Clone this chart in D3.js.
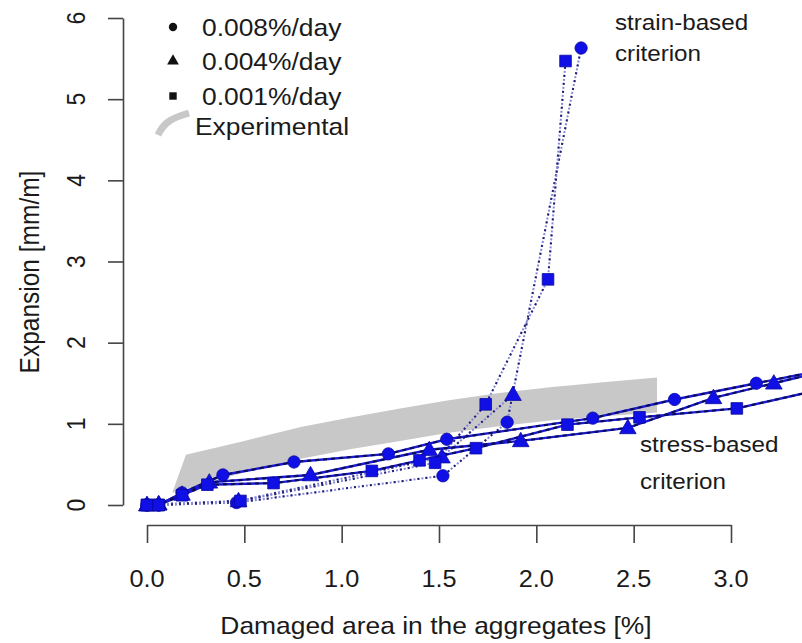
<!DOCTYPE html>
<html>
<head>
<meta charset="utf-8">
<script src="https://cdn.jsdelivr.net/npm/d3@7"></script>
<style>
  html, body { margin: 0; padding: 0; background: #fff; }
  svg { display: block; }
  text { font-family: "Liberation Sans", Arial, sans-serif; fill: #1a1a1a; }
</style>
</head>
<body>
<svg id="chart" width="802" height="643"></svg>
<script>
// ---------- data ----------
const xTicks = [0, 0.5, 1, 1.5, 2, 2.5, 3];
const xTickLabels = ["0.0", "0.5", "1.0", "1.5", "2.0", "2.5", "3.0"];
const yTicks = [0, 1, 2, 3, 4, 5, 6];
const yTickLabels = ["0", "1", "2", "3", "4", "5", "6"];

// stress-based criterion
const stress008X = [0, 0.06, 0.18, 0.39, 0.755, 1.24, 1.54, 2.29, 2.71, 3.13, 3.55];
const stress008Y = [0, 0.00, 0.15, 0.37, 0.53, 0.63, 0.81, 1.07, 1.30, 1.50, 1.70];
const stress004X = [0, 0.06, 0.18, 0.32, 0.84, 1.45, 1.92, 2.47, 2.91, 3.22, 3.55];
const stress004Y = [0, 0.01, 0.13, 0.28, 0.37, 0.68, 0.79, 0.95, 1.32, 1.50, 1.69];
const stress001X = [0, 0.06, 0.18, 0.31, 0.65, 1.155, 1.40, 1.69, 2.16, 2.53, 3.03, 3.55];
const stress001Y = [0, 0.00, 0.12, 0.25, 0.27, 0.42, 0.55, 0.70, 0.99, 1.08, 1.19, 1.47];

// strain-based criterion
const strain008X = [0, 0.06, 0.46, 1.52, 1.85, 2.23];
const strain008Y = [0, 0.00, 0.03, 0.36, 1.02, 5.63];
const strain004X = [0, 0.06, 0.47, 1.515, 1.88];
const strain004Y = [0, 0.01, 0.05, 0.59, 1.36];
const strain001X = [0, 0.06, 0.48, 1.48, 1.74, 2.06, 2.15];
const strain001Y = [0, 0.00, 0.05, 0.52, 1.24, 2.78, 5.47];

// experimental band
const expUpperX = [0.20, 0.50, 0.79, 1.05, 1.30, 1.55, 1.81, 2.07, 2.33, 2.62];
const expUpperY = [0.62, 0.79, 0.96, 1.08, 1.19, 1.29, 1.38, 1.45, 1.51, 1.57];
const expLowerX = [0.13, 0.30, 0.50, 0.79, 1.05, 1.30, 1.55, 1.81, 2.07, 2.33, 2.62];
const expLowerY = [0.15, 0.27, 0.40, 0.57, 0.69, 0.79, 0.89, 0.97, 1.04, 1.09, 1.14];

const legendLabels = ["0.008%/day", "0.004%/day", "0.001%/day", "Experimental"];
const legendShapes = ["circle", "triangle", "square"];

// ---------- drawing ----------
const svg = d3.select("#chart");
const x = d3.scaleLinear().domain([0, 3]).range([147, 731]);
const y = d3.scaleLinear().domain([0, 6]).range([505, 18]);
const SX = 1.1; // horizontal stretch of the original picture's text

const zip = (xs, ys) => xs.map((v, i) => [v, ys[i]]);
const line = d3.line().x(d => x(d[0])).y(d => y(d[1]));

function stext(g, px, py, str, size, anchor, rot) {
  return g.append("text")
    .attr("transform", `translate(${px},${py}) scale(${SX},1)` + (rot ? ` rotate(${rot})` : ""))
    .attr("text-anchor", anchor || "start")
    .attr("dominant-baseline", "central")
    .style("font-size", size + "px")
    .text(str);
}

// experimental band
const upper = zip(expUpperX, expUpperY);
const lower = zip(expLowerX, expLowerY);
svg.append("path")
  .attr("d", line(upper.concat(lower.slice().reverse())) + "Z")
  .attr("fill", "#c8c8c8")
  .attr("stroke", "none");

// axes
const xAxis = d3.axisBottom(x).tickValues(xTicks).tickFormat("").tickSize(18).tickSizeOuter(0);
const gx = svg.append("g").attr("transform", "translate(0,525)").call(xAxis);
gx.selectAll("path, line").attr("stroke", "#444").attr("stroke-width", 1.6);
const yAxis = d3.axisLeft(y).tickValues(yTicks).tickFormat("").tickSize(15).tickSizeOuter(0);
const gy = svg.append("g").attr("transform", "translate(123,0)").call(yAxis);
gy.selectAll("path, line").attr("stroke", "#444").attr("stroke-width", 1.6);

const labels = svg.append("g");
xTicks.forEach((v, i) => stext(labels, x(v), 579, xTickLabels[i], 23, "middle"));
yTicks.forEach((v, i) => stext(labels, 76, y(v), yTickLabels[i], 23, "middle", -90));
stext(labels, 436, 625, "Damaged area in the aggregates [%]", 24, "middle");
stext(labels, 30, 272, "Expansion [mm/m]", 24.5, "middle", -90);

// lines
const strainSets = [[strain008X, strain008Y], [strain004X, strain004Y], [strain001X, strain001Y]];
const stressSets = [[stress008X, stress008Y], [stress004X, stress004Y], [stress001X, stress001Y]];
const lg = svg.append("g");
strainSets.forEach(([xs, ys]) => {
  lg.append("path").attr("d", line(zip(xs, ys))).attr("fill", "none")
    .attr("stroke", "#8a8ad8").attr("stroke-width", 2).attr("stroke-dasharray", "2,2");
  lg.append("path").attr("d", line(zip(xs, ys))).attr("fill", "none")
    .attr("stroke", "#20207a").attr("stroke-width", 2).attr("stroke-dasharray", "2,6");
});
stressSets.forEach(([xs, ys]) => {
  lg.append("path").attr("d", line(zip(xs, ys))).attr("fill", "none")
    .attr("stroke", "#1a1ad0").attr("stroke-width", 2.4);
  lg.append("path").attr("d", line(zip(xs, ys))).attr("fill", "none")
    .attr("stroke", "#0a0a55").attr("stroke-width", 2).attr("stroke-dasharray", "4,4");
});

// markers
const sym = {
  circle: d3.symbol().type(d3.symbolCircle).size(120),
  triangle: d3.symbol().type(d3.symbolTriangle).size(120),
  square: d3.symbol().type(d3.symbolSquare).size(135)
};
const mg = svg.append("g");
function markers(xs, ys, shape) {
  zip(xs, ys).forEach(p => {
    mg.append("path").attr("d", sym[shape]())
      .attr("transform", `translate(${x(p[0])},${y(p[1]) + (shape === "triangle" ? 1 : 0)})`)
      .attr("fill", "#1010e6").attr("stroke", "#0a0aa0").attr("stroke-width", 0.8);
  });
}
strainSets.forEach(([xs, ys], i) => markers(xs, ys, legendShapes[i]));
stressSets.forEach(([xs, ys], i) => markers(xs, ys, legendShapes[i]));

// annotations
stext(svg, 615, 22, "strain-based", 22, "start");
stext(svg, 615, 53, "criterion", 22, "start");
stext(svg, 640, 444, "stress-based", 22, "start");
stext(svg, 640, 481, "criterion", 22, "start");

// legend
const leg = svg.append("g");
const legSym = {
  circle: d3.symbol().type(d3.symbolCircle).size(55),
  triangle: d3.symbol().type(d3.symbolTriangle).size(60),
  square: d3.symbol().type(d3.symbolSquare).size(55)
};
const legY = [27, 61, 96];
legendShapes.forEach((s, i) => {
  leg.append("path").attr("d", legSym[s]()).attr("transform", `translate(173,${legY[i]})`).attr("fill", "#111");
  stext(leg, 202, legY[i], legendLabels[i], 24, "start");
});
leg.append("path")
  .attr("d", "M158,135 C164,122 172,118 189,113")
  .attr("fill", "none").attr("stroke", "#c8c8c8").attr("stroke-width", 7);
stext(leg, 195, 126, legendLabels[3], 24, "start");
</script>
</body>
</html>
